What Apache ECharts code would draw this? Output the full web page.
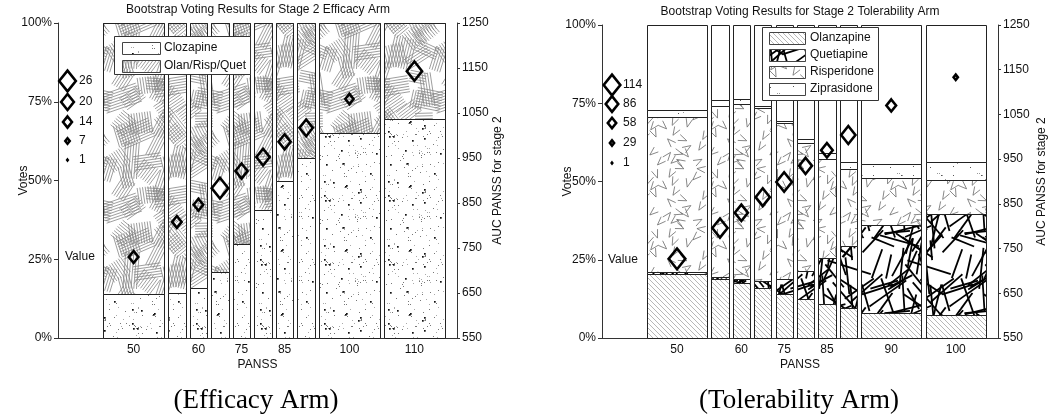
<!DOCTYPE html>
<html><head><meta charset="utf-8">
<script src="https://cdn.jsdelivr.net/npm/echarts@6/dist/echarts.min.js"></script>
<style>html,body{margin:0;padding:0;background:#fff}#c{width:1050px;height:420px}</style>
</head><body><div id="c"></div>
<script>
// ---------------- data ----------------
const barWeight = [3.5, 1, 1, 1, 1, 1, 1, 1, 3.5, 3.5];          // relative bar widths
const effTickLabels = ['50', '', '60', '', '75', '', '85', '', '100', '110'];
const tolTickLabels = ['50', '', '60', '', '75', '', '85', '', '90', '100'];

// Efficacy arm (vote shares, %)
const effClozapine     = [14.0, 14.3, 16.0, 21.0, 30.0, 40.6, 50.0, 57.0, 65.0, 69.5];
const effOlanRispQuet  = [86.0, 85.7, 84.0, 79.0, 70.0, 59.4, 50.0, 43.0, 35.0, 30.5];
const effAUC           = [730, 808, 846, 883, 921, 952, 986, 1017, 1081, 1143];
const effVotes         = [15, 15, 15, 26, 19, 21, 19, 21, 13, 24];
const effKey           = [26, 20, 14, 7, 1];

// Tolerability arm (vote shares, %)
const tolOlanzapine    = [20.5, 18.9, 17.7, 16.1, 14.2, 12.6, 11.0, 9.7, 8.1, 7.5];
const tolQuetiapine    = [0.7, 0.7, 1.2, 2.2, 4.7, 8.9, 14.6, 19.8, 28.0, 32.1];
const tolRisperidone   = [49.3, 54.4, 55.8, 55.1, 49.7, 40.8, 31.6, 24.5, 15.0, 10.9];
const tolZiprasidone   = [2.3, 2.0, 1.6, 0.6, 0.7, 1.2, 1.8, 2.2, 4.5, 5.7];
const tolAUC           = [727, 796, 830, 865, 899, 935, 970, 1004, 1070, 1133];
const tolVotes         = [114, 105, 90, 98, 107, 89, 80, 98, 67, 30];
const tolKey           = [114, 86, 58, 29, 1];

const rightTicks = [550, 650, 750, 850, 950, 1050, 1150, 1250];

// ---------------- textures (styling only) ----------------
function rng(seed){return function(){seed|=0;seed=seed+0x6D2B79F5|0;let t=Math.imul(seed^seed>>>15,1|seed);t=t+Math.imul(t^t>>>7,61|t)^t;return((t^t>>>14)>>>0)/4294967296;};}
function tile(w,h,draw){const c=document.createElement('canvas');c.width=w;c.height=h;const g=c.getContext('2d');g.fillStyle='#fff';g.fillRect(0,0,w,h);draw(g,w,h);return {image:c,repeat:'repeat'};}
function wrap(g,w,h,fn){for(let dx=-w;dx<=w;dx+=w)for(let dy=-h;dy<=h;dy+=h){g.save();g.translate(dx,dy);fn();g.restore();}}

const patStipple = tile(64,64,(g,w,h)=>{const r=rng(11);
  for(let i=0;i<110;i++){g.fillStyle=r()<0.5?'#aaa':'#777';g.fillRect(Math.floor(r()*w),Math.floor(r()*h),1,1);}
  for(let i=0;i<16;i++){g.fillStyle='#111';g.fillRect(Math.floor(r()*w),Math.floor(r()*h),1.7,1.7);}});
const patClusters = tile(110,110,(g,w,h)=>{const r=rng(5);g.strokeStyle='#858585';g.lineWidth=0.8;
  // coarse grid of cluster centres so the coverage is even
  for(let gy=0;gy<6;gy++)for(let gx=0;gx<6;gx++){const cx=(gx+r())*w/6,cy=(gy+r())*h/6,th=r()*Math.PI,n=5+Math.floor(r()*5),len=16+r()*22;
    const dx=Math.cos(th),dy=Math.sin(th),px=-dy,py=dx;
    wrap(g,w,h,()=>{g.beginPath();for(let k=0;k<n;k++){const ox=cx+px*(k-n/2)*2.7,oy=cy+py*(k-n/2)*2.7;
      g.moveTo(ox-dx*len/2,oy-dy*len/2);g.lineTo(ox+dx*len/2,oy+dy*len/2);}g.stroke();});}});
const patDiag = tile(5,5,(g,w,h)=>{g.strokeStyle='#999';g.lineWidth=0.7;
  wrap(g,w,h,()=>{g.beginPath();g.moveTo(0,0);g.lineTo(5,5);g.stroke();});});
const patThick = tile(80,80,(g,w,h)=>{const r=rng(21);g.strokeStyle='#000';g.lineWidth=1.8;
  for(let i=0;i<42;i++){const cx=r()*w,cy=r()*h,th=r()*Math.PI,len=18+r()*30,dx=Math.cos(th)*len/2,dy=Math.sin(th)*len/2;
    wrap(g,w,h,()=>{g.beginPath();g.moveTo(cx-dx,cy-dy);g.lineTo(cx+dx,cy+dy);g.stroke();});}});
const patChevron = tile(60,60,(g,w,h)=>{const r=rng(33);g.strokeStyle='#6a6a6a';g.lineWidth=0.8;
  for(let gy=0;gy<5;gy++)for(let gx=0;gx<5;gx++){const cx=(gx+r())*12,cy=(gy+r())*12,th=r()*Math.PI*2,a=0.36,L=9;
    wrap(g,w,h,()=>{g.beginPath();g.moveTo(cx+Math.cos(th-a)*L,cy+Math.sin(th-a)*L);g.lineTo(cx,cy);g.lineTo(cx+Math.cos(th+a)*L,cy+Math.sin(th+a)*L);g.stroke();});}});
const patSparse = tile(40,40,(g,w,h)=>{const r=rng(44);
  for(let i=0;i<20;i++){g.fillStyle=i%3?'#999':'#555';g.fillRect(Math.floor(r()*w),Math.floor(r()*h),1,1);}});

// ---------------- layout helpers ----------------
const GAP=0.24, PADL=2.6, PADR=0.7;
function layout(ws){let x=PADL;const L=[],R=[],C=[];ws.forEach((w,i)=>{if(i)x+=GAP;L.push(x);x+=w;R.push(x);C.push((L[i]+R[i])/2);});return {L,R,C,max:x+PADR};}
const lay = layout(barWeight);

function diamondSize(v,vmax){const h=2+21*v/vmax;const hp=Math.max(h-2.2,0.6);return [hp*0.8,hp];}

function barsRender(segs,pats){return function(params,api){
  const i=params.dataIndex;
  const X0=Math.round(api.coord([lay.L[i],0])[0])+0.5, X1=Math.round(api.coord([lay.R[i],0])[0])+0.5;
  const yb=Math.round(api.coord([0,0])[1])+0.5, yt=Math.round(api.coord([0,100])[1])+0.5;
  const ch=[{type:'rect',shape:{x:X0,y:yt,width:X1-X0,height:yb-yt},style:{fill:'#fff',stroke:'#222',lineWidth:1}}];
  let acc=0;
  segs.forEach((arr,k)=>{const v=arr[i];
    const Y0=Math.round(api.coord([0,acc])[1])+0.5, Y1=Math.round(api.coord([0,acc+v])[1])+0.5; acc+=v;
    ch.push({type:'rect',shape:{x:X0,y:Y1,width:X1-X0,height:Math.max(Y0-Y1,0.5)},style:{fill:pats[k],stroke:'#222',lineWidth:1}});});
  return {type:'group',children:ch};};}

const FONT='Liberation Sans';
const txt={color:'#111',fontFamily:FONT,fontSize:12};

function xAxisFor(grid,labels){
  const vals=[],map={};labels.forEach((l,i)=>{if(l){vals.push(lay.C[i]);map[lay.C[i].toFixed(4)]=l;}});
  return {type:'value',gridIndex:grid,min:0,max:lay.max,name:'PANSS',nameLocation:'middle',nameGap:21,nameMoveOverlap:false,
    nameTextStyle:txt,axisLine:{lineStyle:{color:'#333'}},axisTick:{show:false},splitLine:{show:false},
    axisLabel:Object.assign({customValues:vals,margin:6,formatter:v=>map[v.toFixed(4)]||''},txt)};
}
function yLeft(grid){return {type:'value',gridIndex:grid,min:0,max:100,interval:25,position:'left',name:'Votes',
  nameLocation:'middle',nameGap:28,nameRotate:90,nameMoveOverlap:false,nameTextStyle:txt,
  axisLine:{show:true,lineStyle:{color:'#333'}},axisTick:{show:true,inside:false,length:4,lineStyle:{color:'#333'}},
  splitLine:{show:false},axisLabel:Object.assign({margin:6,formatter:'{value}%'},txt)};}
function yRight(grid,gap){return {type:'value',gridIndex:grid,min:550,max:1250,position:'right',name:'AUC PANSS for stage 2',
  nameLocation:'middle',nameGap:gap,nameRotate:90,nameMoveOverlap:false,nameTextStyle:txt,
  axisLine:{show:true,lineStyle:{color:'#333'}},axisTick:{show:true,inside:false,length:3,customValues:rightTicks,lineStyle:{color:'#333'}},
  splitLine:{show:false},axisLabel:Object.assign({margin:5,customValues:rightTicks,formatter:v=>String(v)},txt)};}

function scatter(xi,yi,auc,votes,vmax){return {type:'scatter',xAxisIndex:xi,yAxisIndex:yi,z:5,silent:true,
  data:auc.map((a,i)=>[lay.C[i],a,votes[i]]),symbol:'diamond',symbolSize:v=>diamondSize(v[2],vmax),
  itemStyle:{color:'rgba(0,0,0,0)',borderColor:'#000',borderWidth:2.6,opacity:1}};}

// ---------------- graphics: legends, keys, titles ----------------
const gfx=[];
function text(x,y,s,opt){gfx.push({type:'text',x,y,z:100,style:Object.assign({text:s,fill:'#111',font:'12px '+FONT,textVerticalAlign:'middle'},opt||{})});}
function key(cx,tx,ys,vals,vmax){vals.forEach((v,i)=>{const [w,h]=diamondSize(v,vmax);const y=ys[i];
  gfx.push({type:'polygon',z:100,shape:{points:[[cx,y-h/2],[cx+w/2,y],[cx,y+h/2],[cx-w/2,y]]},style:{fill:'none',stroke:'#000',lineWidth:2.6}});
  text(tx,y,String(v));});}
function legendBox(x,y,w,h,items,sx,sw,tx){gfx.push({type:'rect',z:99,shape:{x:x+0.5,y:y+0.5,width:w,height:h},style:{fill:'#fff',stroke:'#333',lineWidth:1}});
  items.forEach(it=>{gfx.push({type:'rect',z:100,shape:{x:sx+0.5,y:Math.round(it.y-6)+0.5,width:sw,height:12},style:{fill:it.fill,stroke:'#444',lineWidth:1}});text(tx,it.y,it.name);});}

key(67.5,79,[81,102,122,141,160],effKey,effKey[0]);
key(612,623,[85,104,123,143,163],tolKey,tolKey[0]);
text(65,257,'Value');
text(608,260,'Value');
legendBox(114,36,136,38,[{y:48,name:'Clozapine',fill:patStipple},{y:66,name:'Olan/Risp/Quet',fill:patClusters}],122,38,164);
legendBox(762,27,116,73,[{y:38,name:'Olanzapine',fill:patDiag},{y:55,name:'Quetiapine',fill:patThick},{y:72,name:'Risperidone',fill:patChevron},{y:89,name:'Ziprasidone',fill:patSparse}],769,36,810);
text(258,10,'Bootstrap Voting Results for Stage 2 Efficacy Arm',{textAlign:'center'});
text(800,12,'Bootstrap Voting Results for Stage 2 Tolerability Arm',{textAlign:'center'});
text(256,401,'(Efficacy Arm)',{textAlign:'center',font:'27px Liberation Serif',fill:'#000'});
text(799,401,'(Tolerability Arm)',{textAlign:'center',font:'27px Liberation Serif',fill:'#000'});

// ---------------- chart ----------------
const chart=echarts.init(document.getElementById('c'),null,{renderer:'canvas'});
chart.setOption({
  animation:false,backgroundColor:'#fff',
  grid:[{left:58,top:23,width:399,height:315,containLabel:false},{left:602,top:25,width:396,height:313,containLabel:false}],
  xAxis:[xAxisFor(0,effTickLabels),xAxisFor(1,tolTickLabels)],
  yAxis:[yLeft(0),yRight(0,35),yLeft(1),yRight(1,38)],
  series:[
    {type:'custom',xAxisIndex:0,yAxisIndex:0,z:1,silent:true,data:barWeight.map((w,i)=>[lay.C[i],100]),encode:{x:0,y:1},
      renderItem:barsRender([effClozapine,effOlanRispQuet],[patStipple,patClusters])},
    {type:'custom',xAxisIndex:1,yAxisIndex:2,z:1,silent:true,data:barWeight.map((w,i)=>[lay.C[i],100]),encode:{x:0,y:1},
      renderItem:barsRender([tolOlanzapine,tolQuetiapine,tolRisperidone,tolZiprasidone],[patDiag,patThick,patChevron,patSparse])},
    scatter(0,1,effAUC,effVotes,effKey[0]),
    scatter(1,3,tolAUC,tolVotes,tolKey[0])
  ],
  graphic:gfx
});
</script></body></html>
